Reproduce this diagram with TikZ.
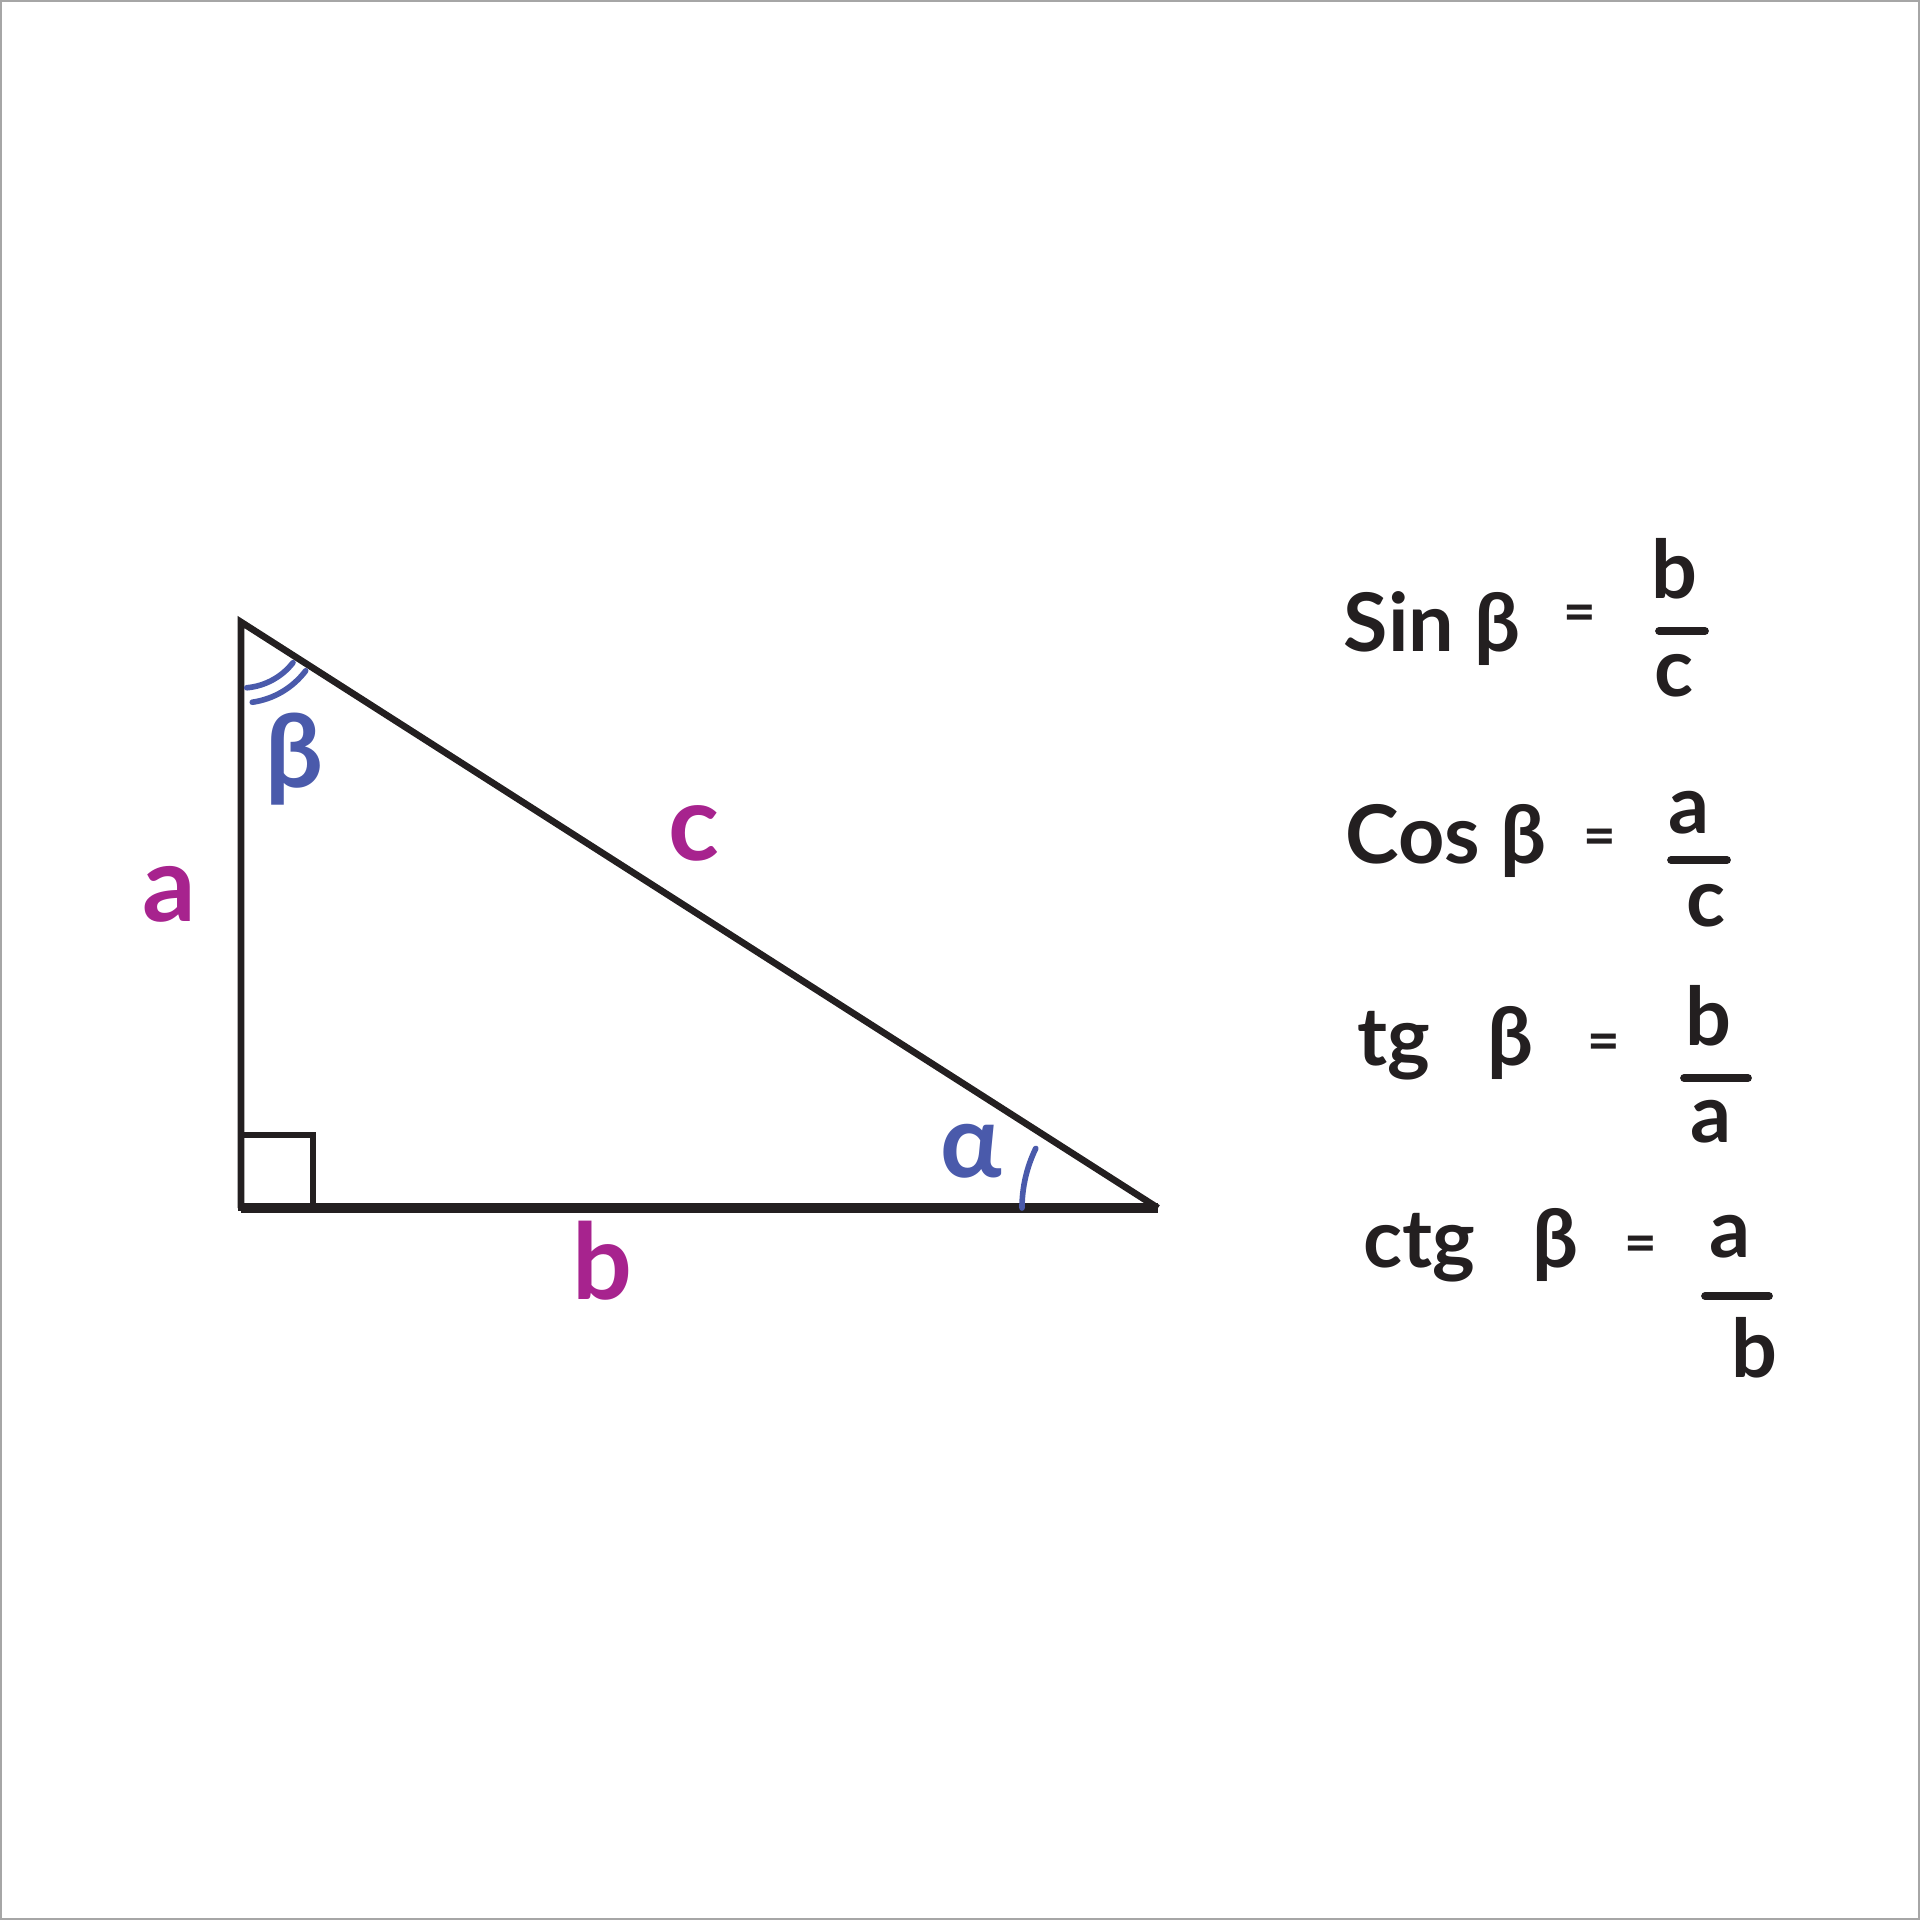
\documentclass[tikz,border=0pt]{standalone}
\usepackage{fontspec}
\setmainfont{Lato}
\usetikzlibrary{positioning}
\definecolor{sidecol}{HTML}{A7238E}
\definecolor{anglecol}{HTML}{4A5AAB}
\definecolor{inkcol}{HTML}{231F20}
\tikzset{
	sidelabel/.style={text=sidecol,font=\fontsize{30}{30}\selectfont\bfseries,inner sep=0pt},
	anglelabel/.style={text=anglecol,font=\fontsize{29}{29}\selectfont\bfseries,inner sep=0pt},
	fml/.style={text=inkcol,font=\fontsize{23}{23}\selectfont\bfseries,inner sep=0pt},
	eqsign/.style={fml,font=\fontsize{16}{16}\selectfont\bfseries},
	fracbar/.style={draw=inkcol,line width=2.2pt,line cap=round},
	anglemark/.style={draw=anglecol,line width=1.6pt,line cap=round}
}
\begin{document}
\begin{tikzpicture}[x=0.01cm,y=-0.01cm,line join=miter]
		\useasboundingbox (0,0) rectangle (1920,1920);
		\draw[gray!70,line width=0.8pt] (1,1) rectangle (1919,1919);
		% triangle
		\coordinate (A) at (241,622);
		\coordinate (C) at (241,1208);
		\coordinate (B) at (1158,1208);
		\draw[inkcol,line width=1.9pt] (C) -- (A) -- (B);
		\draw[inkcol,line width=2.6pt] (C) -- (B);
		\draw[inkcol,line width=1.9pt] (C) rectangle ++(72,-73);
		\draw[anglemark] (A) ++(85:66) arc[start angle=85,end angle=38,radius=66];
		\draw[anglemark] (A) ++(82:81) arc[start angle=82,end angle=37,radius=81];
		\draw[anglemark] (B) ++(180:136) arc[start angle=180,end angle=206,radius=136];
		\node[sidelabel] (sidea) at (169,894) {a};
		\node[sidelabel] (sideb) at (602,1261) {b};
		\node[sidelabel] (sidec) at (694,833) {c};
		\node[anglelabel] (beta) at (294,759) {β};
		\node[anglelabel] (alpha) at (971,1151) {α};
		% formulas
		\node[fml,anchor=base west] (sinlbl) at (1343,651) {Sin\hspace{0.25em}β};
		\node[eqsign] (sineq) at (1580,618) {=};
		\node[fml] (sinnum) at (1674,569) {b};
		\node[fml] (sinden) at (1674,676) {c};
		\coordinate (sinbar) at (1682,631);
		\draw[fracbar] (sinbar) +(-23,0) -- +(23,0);
		\node[fml,anchor=base west] (coslbl) at (1345,863) {Cos\hspace{0.25em}β};
		\node[eqsign] (coseq) at (1600,842) {=};
		\node[fml] (cosnum) at (1689,813) {a};
		\node[fml] (cosden) at (1706,906) {c};
		\coordinate (cosbar) at (1699,860);
		\draw[fracbar] (cosbar) +(-28,0) -- +(28,0);
		\node[fml,anchor=base west] (tglbl) at (1357,1065) {tg\hspace{0.7em}β};
		\node[eqsign] (tgeq) at (1604,1047) {=};
		\node[fml] (tgnum) at (1708,1016) {b};
		\node[fml] (tgden) at (1711,1122) {a};
		\coordinate (tgbar) at (1716,1078);
		\draw[fracbar] (tgbar) +(-32,0) -- +(32,0);
		\node[fml,anchor=base west] (ctglbl) at (1363,1267) {ctg\hspace{0.7em}β};
		\node[eqsign] (ctgeq) at (1641,1249) {=};
		\node[fml] (ctgnum) at (1730,1237) {a};
		\node[fml] (ctgden) at (1754,1348) {b};
		\coordinate (ctgbar) at (1737,1296);
		\draw[fracbar] (ctgbar) +(-32,0) -- +(32,0);
\end{tikzpicture}
\end{document}
